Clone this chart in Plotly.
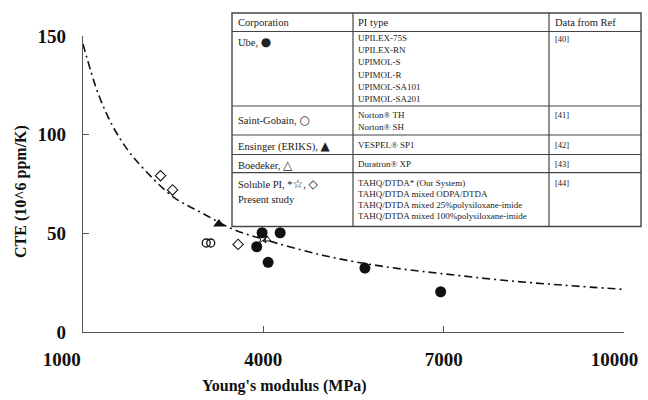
import plotly.graph_objects as go

# Young's modulus (MPa) and CTE (10^6 ppm/K) for each polyimide group
ube_x = [3980, 4280, 3890, 4080, 5690, 6950]
ube_y = [50.3, 50.3, 43.2, 35.3, 32.4, 20.4]

saint_gobain_x = [3050, 3125]
saint_gobain_y = [45.1, 45.1]

ensinger_x = [3260]
ensinger_y = [54.7]

boedeker_x = [4060]
boedeker_y = [47.0]

tahq_x = [3990]
tahq_y = [47.5]

soluble_x = [2290, 2490, 3580]
soluble_y = [79.2, 72.0, 44.4]

# Trend curve through the whole data set
trend_x = [1000, 1250, 1500, 1750, 2000, 2500, 3000, 3500, 4000, 5000,
           6000, 7000, 8000, 9000, 10000]
trend_y = [146, 121, 104, 92, 83, 68.5, 60, 52, 47, 38.8,
           33.2, 29.5, 26.2, 23.7, 21.6]

x_ticks = [1000, 4000, 7000, 10000]
y_ticks = [0, 50, 100, 150]

SERIF = "Liberation Serif, Times New Roman, serif"
INK = "#111111"

fig = go.Figure()

fig.add_trace(go.Scatter(
    x=trend_x, y=trend_y, mode="lines", line_shape="spline",
    line=dict(color=INK, width=1.6, dash="8px,4px,2px,4px"),
    hoverinfo="skip", showlegend=False))

fig.add_trace(go.Scatter(
    x=saint_gobain_x, y=saint_gobain_y, mode="markers", name="Saint-Gobain",
    marker=dict(symbol="circle-open", size=8, color=INK, line=dict(width=1.3))))
fig.add_trace(go.Scatter(
    x=soluble_x, y=soluble_y, mode="markers", name="Soluble PI",
    marker=dict(symbol="diamond-open", size=8, color=INK, line=dict(width=1.1))))
fig.add_trace(go.Scatter(
    x=boedeker_x, y=boedeker_y, mode="markers", name="Boedeker",
    marker=dict(symbol="triangle-up-open", size=7, color=INK, line=dict(width=1))))
fig.add_trace(go.Scatter(
    x=tahq_x, y=tahq_y, mode="markers", name="TAHQ/DTDA",
    marker=dict(symbol="star-open", size=8, color=INK, line=dict(width=1))))
fig.add_trace(go.Scatter(
    x=ensinger_x, y=ensinger_y, mode="markers", name="Ensinger",
    marker=dict(symbol="triangle-up", size=10, color=INK)))
fig.add_trace(go.Scatter(
    x=ube_x, y=ube_y, mode="markers", name="Ube",
    marker=dict(symbol="circle", size=11, color=INK)))

# ---- Plot area geometry (pixels) ----
W, H = 648, 400
L, R, T, B = 83, 24, 36, 68
PW, PH = W - L - R, H - T - B


def px(xp):
    return (xp - L) / PW


def py(yp):
    return (H - B - yp) / PH


shapes = []
annotations = []

# ---- Reference table drawn on top of the chart ----
tbl_left, tbl_right, tbl_top, tbl_bottom = 232, 641, 13, 226.5
col_lines = [353, 549]
row_lines = [31.5, 106, 135, 154.5, 172.7]
BORDER = "#444444"

shapes.append(dict(type="rect", xref="paper", yref="paper",
                   x0=px(tbl_left), x1=px(tbl_right), y0=py(tbl_bottom), y1=py(tbl_top),
                   line=dict(color=BORDER, width=1.4), fillcolor="white", layer="above"))
for c in col_lines:
    shapes.append(dict(type="line", xref="paper", yref="paper",
                       x0=px(c), x1=px(c), y0=py(tbl_bottom), y1=py(tbl_top),
                       line=dict(color=BORDER, width=1.2), layer="above"))
for r in row_lines:
    shapes.append(dict(type="line", xref="paper", yref="paper",
                       x0=px(tbl_left), x1=px(tbl_right), y0=py(r), y1=py(r),
                       line=dict(color=BORDER, width=1.2), layer="above"))


def glyph(ch):
    # symbol glyphs set in a sans font so they show at marker-like size
    return f'<span style="font-family:DejaVu Sans;font-size:12px">{ch}</span>'


header = [("Corporation", 236), ("PI type", 356), ("Data from Ref", 553)]
corporations = [
    ("Ube, " + glyph("\u25CF"), 42),
    ("Saint-Gobain, " + glyph("\u25CB"), 120),
    ("Ensinger (ERIKS), " + glyph("\u25B2"), 146),
    ("Boedeker, " + glyph("\u25B3"), 164.5),
    ("Soluble PI, *" + glyph("\u2606") + ", " + glyph("\u25C7"), 184),
    ("Present study", 199),
]
pi_types = [
    ("UPILEX-75S", 38), ("UPILEX-RN", 50.2), ("UPIMOL-S", 62.4), ("UPIMOL-R", 74.6),
    ("UPIMOL-SA101", 86.8), ("UPIMOL-SA201", 99),
    ("Norton\u00AE TH", 115), ("Norton\u00AE SH", 127),
    ("VESPEL\u00AE SP1", 145), ("Duratron\u00AE XP", 163.5),
]
tahq_types = [
    ("TAHQ/DTDA* (Our System)", 183), ("TAHQ/DTDA mixed ODPA/DTDA", 194),
    ("TAHQ/DTDA mixed 25%polysiloxane-imide", 205),
    ("TAHQ/DTDA mixed 100%polysiloxane-imide", 216),
]
refs = [("[40]", 39), ("[41]", 115), ("[42]", 145), ("[43]", 164), ("[44]", 183)]


def cell(text, xp, yp, size):
    annotations.append(dict(text=text, xref="paper", yref="paper", x=px(xp), y=py(yp),
                            xanchor="left", yanchor="middle", showarrow=False,
                            font=dict(family=SERIF, size=size, color="#222222")))


for t, xp in header:
    cell(t, xp, 22.5, 10.5)
for t, yp in corporations:
    cell(t, 236, yp, 10.5)
for t, yp in pi_types:
    cell(t, 356, yp, 9)
for t, yp in tahq_types:
    cell(t, 356, yp, 9)
for t, yp in refs:
    cell(t, 553, yp, 8.5)

# ---- Axis titles ----
annotations.append(dict(text="<b>Young's modulus (MPa)</b>", xref="paper", yref="paper",
                        x=px(284), y=py(386), xanchor="center", yanchor="middle",
                        showarrow=False, font=dict(family=SERIF, size=16, color=INK)))
annotations.append(dict(text="<b>CTE (10^6 ppm/K)</b>", xref="paper", yref="paper",
                        x=px(21), y=py(192), xanchor="center", yanchor="middle",
                        textangle=-90, showarrow=False,
                        font=dict(family=SERIF, size=16, color=INK)))

NB = "\u00A0"
x_tick_text = ["<b>1000</b>" + NB * 9, "<b>4000</b>", "<b>7000</b>", "<b>10000</b>" + NB * 4]
y_tick_text = [f"<b>{v}</b>" for v in y_ticks]

fig.update_layout(
    width=W, height=H,
    margin=dict(l=L, r=R, t=T, b=B, pad=0, autoexpand=False),
    paper_bgcolor="white", plot_bgcolor="white",
    showlegend=False,
    shapes=shapes, annotations=annotations,
    font=dict(family=SERIF, color=INK),
    xaxis=dict(range=[1000, 10000], tickvals=x_ticks, ticktext=x_tick_text,
               showgrid=False, zeroline=False, showline=True, linecolor="#555555",
               linewidth=1.2, ticks="inside", ticklen=6, tickcolor="#555555",
               tickfont=dict(family=SERIF, size=19, color=INK), automargin=False,
               ticklabelstandoff=10, ticklabeloverflow="allow"),
    yaxis=dict(range=[0, 150], tickvals=y_ticks, ticktext=y_tick_text,
               showgrid=False, zeroline=False, showline=True, linecolor="#555555",
               linewidth=1.2, ticks="inside", ticklen=6, tickcolor="#555555",
               tickfont=dict(family=SERIF, size=19, color=INK), automargin=False,
               ticklabelstandoff=12),
)

fig.write_html("out.html")
